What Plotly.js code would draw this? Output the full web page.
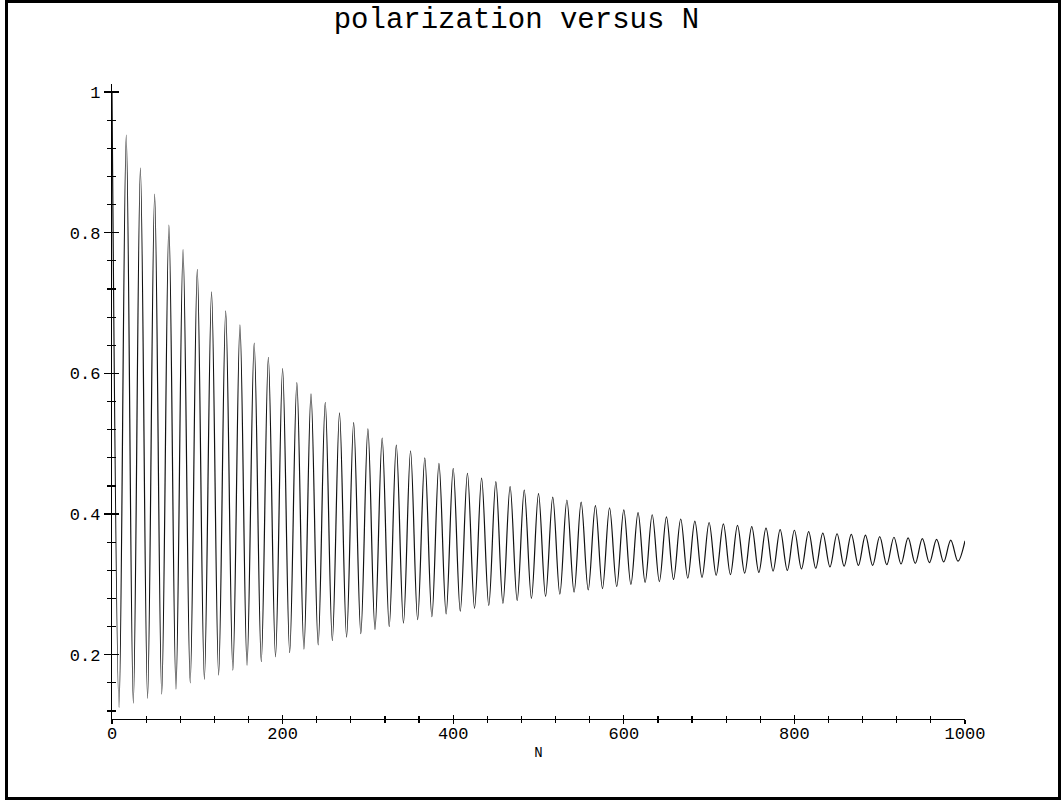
<!DOCTYPE html>
<html>
<head>
<meta charset="utf-8">
<script src="https://cdn.plot.ly/plotly-3.0.1.min.js"></script>
<style>
  html, body { margin: 0; padding: 0; background: #fff; }
  #wrap { position: relative; width: 1062px; height: 802px; }
  #chart { position: absolute; left: 0; top: 0; width: 1062px; height: 802px; }
  #frame { position: absolute; left: 5px; top: 0px; width: 1056px; height: 800px;
           box-sizing: border-box; border: 3px solid #000; pointer-events: none; }
</style>
</head>
<body>
<div id="wrap">
  <div id="chart"></div>
  <div id="frame"></div>
</div>
<script>
// ---- data ----
const chartTitle = "polarization versus N";
const xTitle = "N";

const startN = [0];
const startP = [1.0];

// local maxima of the oscillation (N, polarization)
const peakN = [16.7, 33.3, 50.0, 66.7, 83.3, 100.0, 116.7, 133.3, 150.0, 166.7,
  183.3, 200.0, 216.7, 233.3, 250.0, 266.7, 283.3, 300.0, 316.7, 333.3,
  350.0, 366.7, 383.3, 400.0, 416.7, 433.3, 450.0, 466.7, 483.3, 500.0,
  516.7, 533.3, 550.0, 566.7, 583.3, 600.0, 616.7, 633.3, 650.0, 666.7,
  683.3, 700.0, 716.7, 733.3, 750.0, 766.7, 783.3, 800.0, 816.7, 833.3,
  850.0, 866.7, 883.3, 900.0, 916.7, 933.3, 950.0, 966.7, 983.3, 1000.0];
const peakP = [0.939, 0.892, 0.855, 0.811, 0.776, 0.748, 0.716, 0.689, 0.669, 0.643,
  0.623, 0.607, 0.587, 0.571, 0.559, 0.544, 0.530, 0.521, 0.508, 0.498,
  0.490, 0.480, 0.472, 0.465, 0.458, 0.451, 0.446, 0.439, 0.434, 0.429,
  0.424, 0.420, 0.417, 0.412, 0.409, 0.406, 0.402, 0.399, 0.396, 0.393,
  0.390, 0.388, 0.386, 0.384, 0.382, 0.380, 0.378, 0.377, 0.375, 0.373,
  0.372, 0.371, 0.370, 0.368, 0.367, 0.366, 0.365, 0.364, 0.363, 0.362];

// local minima of the oscillation (N, polarization)
const troughN = [8.3, 25.0, 41.7, 58.3, 75.0, 91.7, 108.3, 125.0, 141.7, 158.3,
  175.0, 191.7, 208.3, 225.0, 241.7, 258.3, 275.0, 291.7, 308.3, 325.0,
  341.7, 358.3, 375.0, 391.7, 408.3, 425.0, 441.7, 458.3, 475.0, 491.7,
  508.3, 525.0, 541.7, 558.3, 575.0, 591.7, 608.3, 625.0, 641.7, 658.3,
  675.0, 691.7, 708.3, 725.0, 741.7, 758.3, 775.0, 791.7, 808.3, 825.0,
  841.7, 858.3, 875.0, 891.7, 908.3, 925.0, 941.7, 958.3, 975.0, 991.7];
const troughP = [0.125, 0.131, 0.138, 0.144, 0.151, 0.160, 0.165, 0.171, 0.178, 0.185,
  0.190, 0.197, 0.203, 0.208, 0.214, 0.220, 0.225, 0.230, 0.236, 0.240,
  0.245, 0.250, 0.254, 0.258, 0.262, 0.266, 0.270, 0.273, 0.277, 0.280,
  0.283, 0.286, 0.289, 0.292, 0.294, 0.297, 0.300, 0.303, 0.304, 0.307,
  0.309, 0.310, 0.313, 0.314, 0.316, 0.317, 0.319, 0.320, 0.322, 0.323,
  0.325, 0.326, 0.327, 0.327, 0.328, 0.329, 0.330, 0.331, 0.332, 0.333];

const xTickVals = [0, 200, 400, 600, 800, 1000];
const yTickVals = [0.2, 0.4, 0.6, 0.8, 1];

// ---- assemble the curve: start, then alternate trough / peak ----
const xs = startN.slice();
const ys = startP.slice();
for (let i = 0; i < troughN.length; i++) {
  xs.push(troughN[i]); ys.push(troughP[i]);
  if (i < peakN.length) { xs.push(peakN[i]); ys.push(peakP[i]); }
}

const monoFamily = "'Courier New', Courier, 'Liberation Mono', monospace";
const tickFont = { family: monoFamily, size: 17, color: "#000" };

const trace = {
  x: xs, y: ys, type: "scatter", mode: "lines",
  line: { color: "#111", width: 1.2, shape: "spline", smoothing: 1 },
  hoverinfo: "skip", showlegend: false
};
// same curve bound to the overlay axes (transparent) so that their inner tick marks are drawn
const traceOverlay = {
  x: xs, y: ys, xaxis: "x2", yaxis: "y2", type: "scatter", mode: "lines",
  line: { color: "rgba(0,0,0,0)", width: 0.1, shape: "spline" },
  hoverinfo: "skip", showlegend: false
};

const xRange = [0, 1000];
const yRange = [0.1086, 1.0115];

const layout = {
  width: 1062, height: 802,
  margin: { l: 112, r: 97, t: 84, b: 83, pad: 0 },
  paper_bgcolor: "#fff", plot_bgcolor: "rgba(0,0,0,0)",
  showlegend: false,
  title: {
    text: chartTitle,
    font: { family: monoFamily, size: 29, color: "#000" },
    xref: "container", x: 0.4863, xanchor: "center",
    yref: "container", y: 0.99, yanchor: "top"
  },
  xaxis: {
    range: xRange, showgrid: false, zeroline: false,
    showline: true, linecolor: "#000", linewidth: 1.2,
    tickmode: "array", tickvals: xTickVals,
    ticks: "outside", ticklen: 4, tickwidth: 1.2, tickcolor: "#000",
    minor: { ticks: "outside", ticklen: 3, dtick: 40, tick0: 0, tickwidth: 1.2, tickcolor: "#000", showgrid: false },
    tickfont: tickFont, ticklabelstandoff: -6,
    title: { text: xTitle, font: { family: monoFamily, size: 14, color: "#000" }, standoff: 4 }
  },
  xaxis2: {
    overlaying: "x", anchor: "y2", side: "bottom",
    range: xRange, showgrid: false, zeroline: false, showline: false,
    showticklabels: false, tickmode: "array", tickvals: xTickVals,
    ticks: "inside", ticklen: 4, tickwidth: 1.2, tickcolor: "#000",
    minor: { ticks: "inside", ticklen: 3, dtick: 40, tick0: 0, tickwidth: 1.2, tickcolor: "#000", showgrid: false }
  },
  yaxis: {
    range: yRange, showgrid: false, zeroline: false,
    showline: true, linecolor: "#000", linewidth: 1.2,
    tickmode: "array", tickvals: yTickVals,
    ticks: "outside", ticklen: 7, tickwidth: 1.2, tickcolor: "#000",
    minor: { ticks: "outside", ticklen: 4, dtick: 0.04, tick0: 0, tickwidth: 1.2, tickcolor: "#000", showgrid: false },
    tickfont: tickFont
  },
  yaxis2: {
    overlaying: "y", anchor: "x2", side: "left",
    range: yRange, showgrid: false, zeroline: false, showline: false,
    showticklabels: false, tickmode: "array", tickvals: yTickVals,
    ticks: "inside", ticklen: 7, tickwidth: 1.2, tickcolor: "#000",
    minor: { ticks: "inside", ticklen: 4, dtick: 0.04, tick0: 0, tickwidth: 1.2, tickcolor: "#000", showgrid: false }
  }
};

Plotly.newPlot("chart", [trace, traceOverlay], layout, { staticPlot: true, displayModeBar: false });
</script>
</body>
</html>
